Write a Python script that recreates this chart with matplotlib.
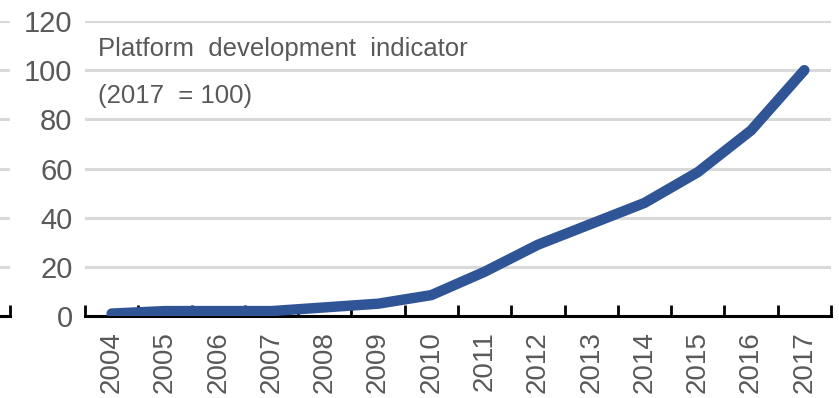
import matplotlib.pyplot as plt
import numpy as np

years = ["2004", "2005", "2006", "2007", "2008", "2009", "2010",
         "2011", "2012", "2013", "2014", "2015", "2016", "2017"]
indicator = [1, 2, 2, 2, 3.5, 5, 8.5, 18, 29, 37.5, 46, 58.5, 75.5, 100]
yticks = [0, 20, 40, 60, 80, 100, 120]

plt.rcParams['font.family'] = ['Liberation Sans Narrow', 'Liberation Sans', 'DejaVu Sans']
grey = "#595959"

fig = plt.figure(figsize=(8.39, 3.98), dpi=100)
ax = fig.add_axes([85 / 839, 82 / 398, 746 / 839, 295 / 398])

x = np.arange(len(years))
ax.plot(x, indicator, color="#2F5597", lw=7.5, solid_capstyle="round", zorder=3)

ax.set_xlim(-0.5, len(years) - 0.5)
ax.set_ylim(0, 120)
ax.set_yticks(yticks)
ax.yaxis.grid(True, color="#D9D9D9", lw=2.2)
ax.set_axisbelow(True)
ax.tick_params(axis="y", length=0, labelsize=21, labelcolor=grey, pad=9)

ax.set_xticks(x)
ax.set_xticklabels(years, rotation=90)
ax.set_xticks(np.arange(len(years) + 1) - 0.5, minor=True)
ax.tick_params(axis="x", which="major", length=0, labelsize=20, labelcolor=grey, pad=11)
ax.tick_params(axis="x", which="minor", direction="in", length=8, width=2, color="black")

for s in ["top", "right", "left"]:
    ax.spines[s].set_visible(False)
ax.spines["bottom"].set_linewidth(2.2)
ax.spines["bottom"].set_color("black")

ax.text(0.018, 0.905, "Platform  development  indicator", transform=ax.transAxes,
        fontsize=18.5, color=grey, va="center", ha="left")
ax.text(0.018, 0.745, "(2017  = 100)", transform=ax.transAxes,
        fontsize=18.5, color=grey, va="center", ha="left")

# edge of the neighbouring panel on the left
stub = fig.add_axes([-0.3, 82 / 398, 0.312, 295 / 398])
stub.set_xlim(0, 1)
stub.set_ylim(0, 120)
stub.set_yticks(yticks)
stub.yaxis.grid(True, color="#D9D9D9", lw=2.2)
stub.set_xticks([1.0])
stub.tick_params(axis="x", direction="in", length=8, width=2, labelbottom=False)
stub.tick_params(axis="y", length=0, labelleft=False)
for s in ["top", "right", "left"]:
    stub.spines[s].set_visible(False)
stub.spines["bottom"].set_linewidth(2.2)

fig.savefig("out.png", dpi=100)
